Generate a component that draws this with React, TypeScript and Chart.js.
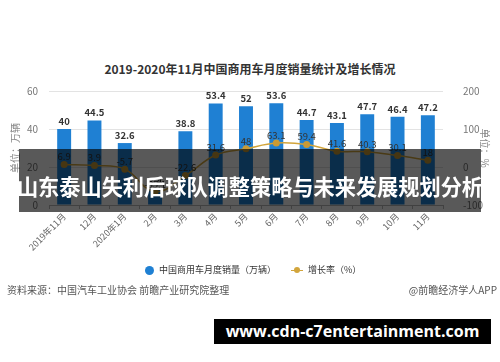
import React, { useEffect, useRef } from "react";
import { Chart, registerables } from "chart.js";

Chart.register(...registerables);

const months = ["2019年11月", "12月", "2020年1月", "2月", "3月", "4月", "5月", "6月", "7月", "8月", "9月", "10月", "11月"];
const sales = [40, 44.5, 32.6, 8.4, 38.8, 53.4, 52, 53.6, 44.7, 43.1, 47.7, 46.4, 47.2];
const growth = [6.9, 3.9, -5.7, -65.1, -22.6, 31.6, 48, 63.1, 59.4, 41.6, 40.3, 30.1, 18];
const leftTicks = [0, 20, 40, 60];
const rightTicks = [-100, 0, 100, 200];

const FONT = "'Noto Sans CJK SC', 'Noto Sans', sans-serif";
const BLUE = "#1f80d3";
const GOLD = "#d2a53c";

const labelPlugin = {
  id: "valueLabels",
  afterDatasetsDraw(chart: any) {
    const ctx = chart.ctx;
    ctx.save();
    ctx.textAlign = "center";
    ctx.textBaseline = "bottom";
    chart.data.datasets.forEach((ds: any, i: number) => {
      const meta = chart.getDatasetMeta(i);
      meta.data.forEach((el: any, j: number) => {
        const v = ds.data[j];
        if (ds.type === "bar") {
          ctx.font = `bold 9.5px ${FONT}`;
          ctx.fillStyle = "#333";
          ctx.fillText(String(v), el.x, el.y - 3);
        } else {
          ctx.font = `9.5px ${FONT}`;
          ctx.fillStyle = "#333";
          ctx.fillText(String(v), el.x, el.y - 3);
        }
      });
    });
    ctx.restore();
  },
};

export default function App() {
  const ref = useRef<HTMLCanvasElement>(null);
  useEffect(() => {
    const chart = new Chart(ref.current as HTMLCanvasElement, {
      data: {
        labels: months,
        datasets: [
          {
            type: "line",
            label: "增长率（%）",
            data: growth,
            yAxisID: "y1",
            borderColor: GOLD,
            backgroundColor: "#c99a35",
            borderWidth: 1.5,
            pointRadius: 3.5,
            pointBorderWidth: 0,
            tension: 0.4,
            order: 0,
          },
          {
            type: "bar",
            label: "中国商用车月度销量（万辆）",
            data: sales,
            yAxisID: "y",
            backgroundColor: BLUE,
            barPercentage: 0.46,
            categoryPercentage: 1,
            order: 1,
          },
        ],
      } as any,
      options: {
        animation: false,
        responsive: false,
        layout: { padding: { top: 91, left: 0, right: 0, bottom: 0 } },
        plugins: { legend: { display: false }, tooltip: { enabled: false } },
        scales: {
          x: {
            grid: { drawOnChartArea: false, drawTicks: true, tickLength: 4, color: "#bbb", offset: true },
            border: { display: true, color: "#bbb" },
            ticks: { minRotation: 45, maxRotation: 45, font: { size: 9, family: FONT }, color: "#666", padding: 2 },
            afterFit: (s: any) => { s.height = 157; },
          },
          y: {
            position: "left",
            min: 0,
            max: 60,
            afterBuildTicks: (s: any) => { s.ticks = leftTicks.map((v) => ({ value: v })); },
            grid: { color: "#e3e3e3", drawTicks: false },
            border: { display: false },
            ticks: { font: { size: 10, family: FONT }, color: "#777", padding: 11 },
            title: { display: true, text: "单位：万辆", font: { size: 10, family: FONT }, color: "#888", padding: { top: 9, bottom: 0 } },
            afterFit: (s: any) => { s.width = 49; },
          },
          y1: {
            position: "right",
            min: -100,
            max: 200,
            afterBuildTicks: (s: any) => { s.ticks = rightTicks.map((v) => ({ value: v })); },
            grid: { display: false },
            border: { display: false },
            ticks: { font: { size: 10, family: FONT }, color: "#777", padding: 12 },
            title: { display: true, text: "单位：%", font: { size: 10, family: FONT }, color: "#888", padding: { top: 9, bottom: 0 } },
            afterFit: (s: any) => { s.width = 57; },
          },
        },
      } as any,
      plugins: [labelPlugin],
    });
    return () => chart.destroy();
  }, []);

  return (
    <div style={{ position: "fixed", left: 0, top: 0, width: 500, height: 362, background: "#fff", overflow: "hidden", fontFamily: FONT }}>
      <div style={{ position: "absolute", left: 0, top: 60, width: 500, textAlign: "center", fontSize: 12, fontWeight: "bold", color: "#333", lineHeight: "18px" }}>
        2019-2020年11月中国商用车月度销量统计及增长情况
      </div>
      <canvas ref={ref} width={500} height={362} style={{ position: "absolute", left: 0, top: 0 }} />
      <div style={{ position: "absolute", left: 145, top: 263, fontSize: 9, color: "#333", lineHeight: "14px", display: "flex", alignItems: "center", whiteSpace: "nowrap" }}>
        <span style={{ display: "inline-block", width: 9, height: 9, borderRadius: 5, background: BLUE, marginRight: 5 }} />
        <span>中国商用车月度销量（万辆）</span>
        <span style={{ position: "relative", display: "inline-block", width: 12, height: 9, marginLeft: 15, marginRight: 5 }}>
          <span style={{ position: "absolute", left: 0, top: 4, width: 12, height: 1.5, background: GOLD }} />
          <span style={{ position: "absolute", left: 3, top: 1.5, width: 6, height: 6, borderRadius: 3, background: GOLD }} />
        </span>
        <span>增长率（%）</span>
      </div>
      <div style={{ position: "absolute", left: 7, top: 283, fontSize: 10, color: "#555", lineHeight: "14px", whiteSpace: "nowrap" }}>
        资料来源：中国汽车工业协会 前瞻产业研究院整理
      </div>
      <div style={{ position: "absolute", right: 3, top: 283, fontSize: 10, color: "#555", lineHeight: "14px", whiteSpace: "nowrap" }}>
        @前瞻经济学人APP
      </div>
      <div style={{ position: "absolute", left: 19, top: 149, width: 462, height: 63, background: "rgba(0,0,0,0.65)" }} />
      <div style={{ position: "absolute", left: 0, top: 171, width: 500, textAlign: "center", color: "#fff", fontWeight: "bold", fontSize: 21.2, lineHeight: "30px", whiteSpace: "nowrap" }}>
        山东泰山失利后球队调整策略与未来发展规划分析
      </div>
      <div style={{ position: "absolute", left: 214, top: 319, width: 277, height: 25, background: "#000", color: "#fff", fontWeight: "bold", fontSize: 16, lineHeight: "25px", textAlign: "center", fontFamily: "'Open Sans', 'DejaVu Sans', sans-serif", whiteSpace: "nowrap" }}>
        www.cdn-c7entertainment.com
      </div>
    </div>
  );
}
